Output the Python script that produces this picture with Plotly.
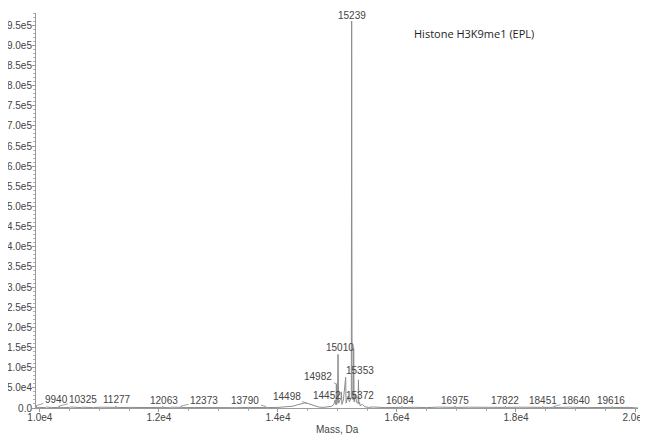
import plotly.graph_objects as go

# ---------------- data ----------------
mass = [9935, 9937, 9940, 9946, 10000, 10100, 10110, 10200, 10320, 10325, 10331,
        10500, 10510, 10700, 10705, 10900, 11000, 11010, 11271, 11277, 11283,
        11500, 11600, 11605, 11800, 12057, 12063, 12069, 12200, 12205, 12367,
        12373, 12379, 12600, 12800, 12805, 13000, 13200, 13300, 13500, 13784,
        13790, 13796, 14000, 14150, 14250, 14330, 14400, 14450, 14498, 14540,
        14600, 14680, 14760, 14850, 14900, 14940, 14960, 14976, 14982, 14988,
        15000, 15010, 15020, 15060, 15066, 15075, 15100, 15138, 15145, 15180,
        15200, 15233, 15239, 15246, 15266, 15273, 15280, 15300, 15320, 15347,
        15353, 15360, 15372, 15380, 15420, 15460, 15520, 15600, 15800, 16078,
        16084, 16090, 16300, 16500, 16700, 16969, 16975, 16981, 17200, 17500,
        17816, 17822, 17828, 18100, 18445, 18451, 18457, 18634, 18640, 18646,
        18900, 19200, 19610, 19616, 19622, 19900, 20050]
intensity = [0, 1500, 6000, 500, 1500, 800, 2500, 1000, 1500, 5000, 800,
             1200, 2500, 1000, 2200, 800, 1500, 2000, 1500, 5000, 1000,
             1500, 800, 2500, 1200, 1500, 4500, 1200, 800, 2000, 1500,
             4500, 1000, 1200, 800, 2000, 1000, 1500, 800, 1300, 1200,
             4000, 1000, 1500, 2500, 4500, 8000, 11000, 12500, 11500, 9000,
             5500, 2500, 1500, 2500, 4000, 9000, 20000, 8000, 60000, 9000,
             18000, 133000, 12000, 25000, 40000, 9000, 20000, 76000, 12000, 30000,
             15000, 25000, 960000, 30000, 20000, 148000, 15000, 35000, 14000, 12000,
             70000, 10000, 14000, 6000, 9000, 3000, 1500, 2500, 1000, 1500,
             4000, 1200, 1800, 1000, 2200, 1500, 4500, 1500, 2000, 1200,
             1500, 4500, 1500, 2000, 1500, 4000, 1500, 1500, 4000, 1200,
             2000, 1000, 1500, 4000, 1200, 1500, 0]

label_text = ["9940", "10325", "11277", "12063", "12373", "13790", "14498", "14452",
              "14982", "15010", "15239", "15353", "15372", "16084", "16975", "17822",
              "18451", "18640", "19616"]
label_mass = [9940, 10325, 11277, 12063, 12373, 13790, 14498, 14452,
              14982, 15010, 15239, 15353, 15372, 16084, 16975, 17822,
              18451, 18640, 19616]
label_int = [6000, 5000, 5000, 4500, 4500, 4000, 11500, 12500,
             60000, 133000, 960000, 70000, 14000, 4000, 4500, 4500,
             4000, 4000, 4000]

y_tickvals = [0, 50000, 100000, 150000, 200000, 250000, 300000, 350000, 400000,
              450000, 500000, 550000, 600000, 650000, 700000, 750000, 800000,
              850000, 900000, 950000]
y_ticktext = ["0.0", "5.0e4", "1.0e5", "1.5e5", "2.0e5", "2.5e5", "3.0e5", "3.5e5",
              "4.0e5", "4.5e5", "5.0e5", "5.5e5", "6.0e5", "6.5e5", "7.0e5", "7.5e5",
              "8.0e5", "8.5e5", "9.0e5", "9.5e5"]
x_tickvals = [10000, 12000, 14000, 16000, 18000, 20000]
x_ticktext = ["1.0e4", "1.2e4", "1.4e4", "1.6e4", "1.8e4", "2.0e4"]

title_text = "Histone H3K9me1 (EPL)"
x_title = "Mass, Da"

# ---------------- label placement (pixel offsets, leader flag) ----------------
label_place = [(20, -6, True), (24, -6, True), (1, -6, False), (1, -6, False),
               (23, -6, True), (-20, -6, True), (-21, -7, True), (22, -7, False),
               (-18, -7, True), (2, -6.5, False), (0, -6, False), (1.5, -9, False),
               (0, -7, False), (-1.5, -6, False), (0, -6, False), (0, -6, False),
               (0.5, -6, False), (22, -6, True), (-1, -6, False)]

TXT = "#444444"
FONT = "Arial, Liberation Sans, Arimo, sans-serif"
X0, X1 = 9935, 20050

fig = go.Figure()
fig.add_trace(go.Scatter(x=mass, y=intensity, mode="lines",
                         line=dict(color="#8c8c8c", width=1), hoverinfo="skip"))

annotations = []
for t, m, v, (dx, dy, arrow) in zip(label_text, label_mass, label_int, label_place):
    if arrow:
        annotations.append(dict(x=m, y=v, xref="x", yref="y", text=t, showarrow=True,
                                ax=dx, ay=dy, arrowhead=0, arrowwidth=0.8,
                                arrowcolor="#8c8c8c", standoff=0,
                                font=dict(family=FONT, size=10, color=TXT)))
    else:
        annotations.append(dict(x=m, y=v, xref="x", yref="y", text=t, showarrow=False,
                                xshift=dx, yshift=-dy, xanchor="center", yanchor="middle",
                                font=dict(family=FONT, size=10, color=TXT)))

annotations.append(dict(x=16252, y=930000, xref="x", yref="y", text=title_text,
                        showarrow=False, xanchor="left", yanchor="middle",
                        font=dict(family="Open Sans", size=11, color="#1e1e1e")))
annotations.append(dict(x=(15000 - X0) / (X1 - X0), y=0, xref="paper", yref="paper",
                        text=x_title, showarrow=False, xanchor="center",
                        yanchor="middle", yshift=-21,
                        font=dict(family=FONT, size=10, color=TXT)))

fig.update_layout(
    width=640, height=428,
    margin=dict(l=28, r=10, t=5, b=28, pad=0, autoexpand=False),
    paper_bgcolor="white", plot_bgcolor="white",
    showlegend=False,
    annotations=annotations,
    xaxis=dict(range=[X0, X1], tickmode="array", tickvals=x_tickvals,
               ticktext=x_ticktext, showgrid=False, zeroline=False, automargin=False,
               showline=True, linecolor="#9a9a9a", linewidth=1,
               ticks="outside", ticklen=3, tickcolor="#9a9a9a",
               ticklabelstandoff=-3, ticklabeloverflow="allow",
               tickfont=dict(family=FONT, size=10, color=TXT),
               minor=dict(dtick=500, ticks="outside", ticklen=2, tickcolor="#b0b0b0")),
    yaxis=dict(range=[0, 980000], tickmode="array", tickvals=y_tickvals,
               ticktext=y_ticktext, showgrid=False, zeroline=False, automargin=False,
               showline=True, linecolor="#9a9a9a", linewidth=1,
               ticks="outside", ticklen=3, tickcolor="#9a9a9a",
               ticklabelstandoff=-2, ticklabeloverflow="allow",
               tickfont=dict(family=FONT, size=10, color=TXT),
               minor=dict(dtick=10000, ticks="outside", ticklen=2, tickcolor="#b0b0b0")),
)

fig.write_html("out.html")
